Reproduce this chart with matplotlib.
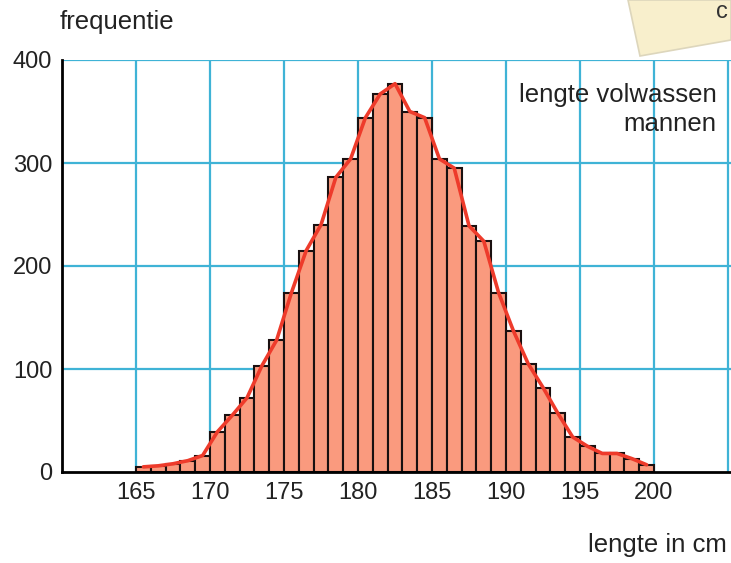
import matplotlib

matplotlib.use("Agg")
import matplotlib.pyplot as plt  # noqa: E402
from matplotlib.patches import Polygon  # noqa: E402

# lengteklassen (linkergrens, breedte 1 cm) en frequenties
lengte_start = list(range(165, 200))
frequentie = [5, 6, 8, 11, 16, 39, 55, 72, 103, 128, 174, 215, 240, 286, 304,
              344, 367, 377, 350, 344, 304, 295, 239, 224, 174, 137, 105, 82,
              57, 34, 25, 18, 18, 13, 7]

x_ticks = [165, 170, 175, 180, 185, 190, 195, 200]
y_ticks = [0, 100, 200, 300, 400]

plt.rcParams["font.family"] = ["Liberation Sans", "DejaVu Sans"]

fig = plt.figure(figsize=(7.31, 5.63), dpi=100)
ax = fig.add_axes([62 / 731, 91 / 563, 669 / 731, 412 / 563])
ax.set_xlim(160, 205.2)
ax.set_ylim(0, 400)

# raster
for xv in x_ticks + [205]:
    ax.axvline(xv, color="#3fb3d6", lw=1.6, zorder=0)
for yv in y_ticks[1:]:
    ax.axhline(yv, color="#3fb3d6", lw=1.6, zorder=0)

ax.bar(lengte_start, frequentie, width=1, align="edge", color="#fa9a7e",
       edgecolor="#1a1010", lw=1.5, zorder=2)
midden = [x + 0.5 for x in lengte_start]
ax.plot(midden, frequentie, color="#ee3b2b", lw=2.6, solid_capstyle="round",
        solid_joinstyle="round", zorder=3)

for s in ["top", "right"]:
    ax.spines[s].set_visible(False)
for s in ["left", "bottom"]:
    ax.spines[s].set_linewidth(2)
    ax.spines[s].set_color("black")
    ax.spines[s].set_zorder(4)

ax.set_xticks(x_ticks)
ax.set_yticks(y_ticks)
ax.tick_params(length=0, labelsize=17, colors="#222222", pad=7)

ax.text(0.978, 0.945, "lengte volwassen\nmannen", transform=ax.transAxes,
        ha="right", va="top", fontsize=18.5, color="#222222",
        linespacing=1.3)
fig.text(60 / 731, 1 - 22 / 563, "frequentie", ha="left", va="center",
         fontsize=18.5, color="#222222")
fig.text(727 / 731, 1 - 545 / 563, "lengte in cm", ha="right", va="center",
         fontsize=18.5, color="#222222")

# geeltje rechtsboven
note = Polygon([(628 / 731, 1), (1, 1), (1, 1 - 40 / 563),
                (640 / 731, 1 - 56 / 563)], closed=True,
               transform=fig.transFigure, facecolor="#f8efcc",
               edgecolor="#ddd6bc", lw=1.2, zorder=10)
fig.patches.append(note)
fig.text(716 / 731, 1 - 12 / 563, "c", ha="left", va="center", fontsize=17,
         color="#333333", zorder=11)

fig.savefig("out.png", dpi=100)
